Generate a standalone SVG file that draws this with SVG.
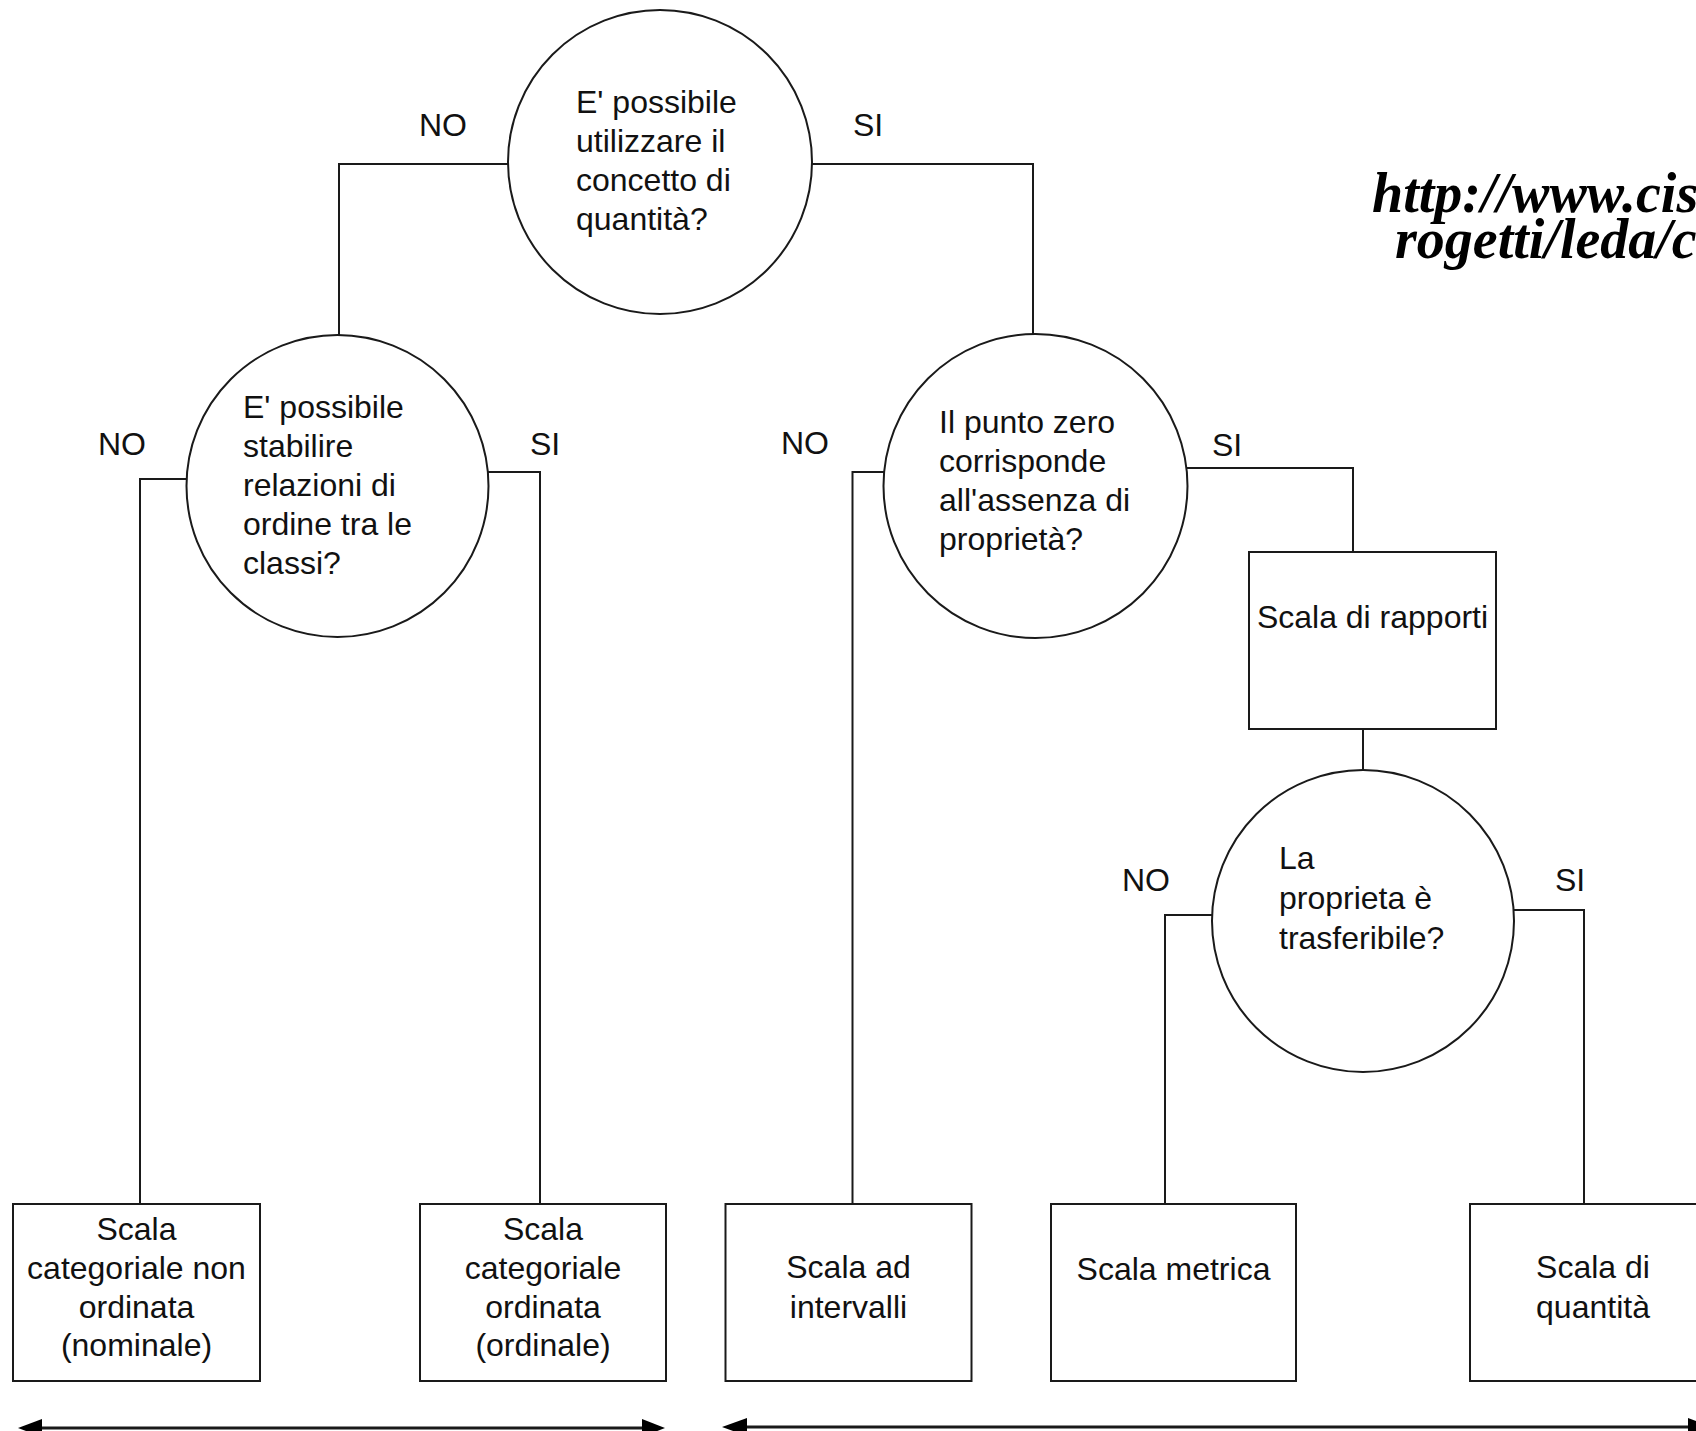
<svg xmlns="http://www.w3.org/2000/svg" width="1696" height="1431" viewBox="0 0 1696 1431">
<style>
.shape{fill:#fff;stroke:#1a1a1a;stroke-width:2}
.conn{fill:none;stroke:#1a1a1a;stroke-width:2}
.t{font-family:"Liberation Sans",Arial,sans-serif;font-size:32px;fill:#111}
.c{text-anchor:middle}
.url{font-family:"Liberation Serif","Times New Roman",serif;font-size:56px;font-weight:bold;font-style:italic;fill:#000}
.arr{fill:#000}
</style>
<rect width="1696" height="1431" fill="#fff"/>

<g id="connectors">
  <path class="conn" d="M509,164 H339 V335"/>
  <path class="conn" d="M812,164 H1033 V334"/>
  <path class="conn" d="M187,479 H140 V1204"/>
  <path class="conn" d="M488,472 H540 V1204"/>
  <path class="conn" d="M884,472 H852.5 V1204"/>
  <path class="conn" d="M1187,468 H1353 V552"/>
  <path class="conn" d="M1363,729 V770"/>
  <path class="conn" d="M1212,915 H1165 V1204"/>
  <path class="conn" d="M1514,910 H1584 V1204"/>
  <text class="t" x="419" y="136">NO</text>
  <text class="t" x="853" y="136">SI</text>
  <text class="t" x="98" y="455">NO</text>
  <text class="t" x="530" y="455">SI</text>
  <text class="t" x="781" y="454">NO</text>
  <text class="t" x="1212" y="456">SI</text>
  <text class="t" x="1122" y="891">NO</text>
  <text class="t" x="1555" y="891">SI</text>
</g>

<g id="q-quantita">
  <circle class="shape" cx="660" cy="162" r="152"/>
  <text class="t" x="576" y="113">E' possibile</text>
  <text class="t" x="576" y="152">utilizzare il</text>
  <text class="t" x="576" y="191">concetto di</text>
  <text class="t" x="576" y="230">quantità?</text>
</g>

<g id="q-ordine">
  <circle class="shape" cx="337.5" cy="486" r="151"/>
  <text class="t" x="243" y="418">E' possibile</text>
  <text class="t" x="243" y="457">stabilire</text>
  <text class="t" x="243" y="496">relazioni di</text>
  <text class="t" x="243" y="535">ordine tra le</text>
  <text class="t" x="243" y="574">classi?</text>
</g>

<g id="q-zero">
  <circle class="shape" cx="1035.5" cy="486" r="152"/>
  <text class="t" x="939" y="433">Il punto zero</text>
  <text class="t" x="939" y="472">corrisponde</text>
  <text class="t" x="939" y="511">all'assenza di</text>
  <text class="t" x="939" y="550">proprietà?</text>
</g>

<g id="scala-rapporti">
  <rect class="shape" x="1249" y="552" width="247" height="177"/>
  <text class="t c" x="1372.5" y="628">Scala di rapporti</text>
</g>

<g id="q-trasferibile">
  <circle class="shape" cx="1363" cy="921" r="151"/>
  <text class="t" x="1279" y="869">La</text>
  <text class="t" x="1279" y="909">proprieta è</text>
  <text class="t" x="1279" y="949">trasferibile?</text>
</g>

<g id="scala-nominale">
  <rect class="shape" x="13" y="1204" width="247" height="177"/>
  <text class="t c" x="136.5" y="1240">Scala</text>
  <text class="t c" x="136.5" y="1279">categoriale non</text>
  <text class="t c" x="136.5" y="1318">ordinata</text>
  <text class="t c" x="136.5" y="1356">(nominale)</text>
</g>

<g id="scala-ordinale">
  <rect class="shape" x="420" y="1204" width="246" height="177"/>
  <text class="t c" x="543" y="1240">Scala</text>
  <text class="t c" x="543" y="1279">categoriale</text>
  <text class="t c" x="543" y="1318">ordinata</text>
  <text class="t c" x="543" y="1356">(ordinale)</text>
</g>

<g id="scala-intervalli">
  <rect class="shape" x="725.5" y="1204" width="246" height="177"/>
  <text class="t c" x="848.5" y="1278">Scala ad</text>
  <text class="t c" x="848.5" y="1318">intervalli</text>
</g>

<g id="scala-metrica">
  <rect class="shape" x="1051" y="1204" width="245" height="177"/>
  <text class="t c" x="1173.5" y="1280">Scala metrica</text>
</g>

<g id="scala-quantita">
  <rect class="shape" x="1470" y="1204" width="246" height="177"/>
  <text class="t c" x="1593" y="1278">Scala di</text>
  <text class="t c" x="1593" y="1318">quantità</text>
</g>

<g id="range-arrows">
  <line x1="30" y1="1428" x2="650" y2="1428" stroke="#1a1a1a" stroke-width="3"/>
  <polygon class="arr" points="18,1428 42,1419 42,1437"/>
  <polygon class="arr" points="665,1428 642,1419 642,1437"/>
  <line x1="735" y1="1427" x2="1700" y2="1427" stroke="#1a1a1a" stroke-width="3"/>
  <polygon class="arr" points="722,1427 747,1418 747,1436"/>
  <polygon class="arr" points="1712,1427 1688,1418 1688,1436"/>
</g>

<g id="url">
  <text class="url" x="1372" y="212">http://www.cis</text>
  <text class="url" x="1395" y="258">rogetti/leda/c</text>
</g>
</svg>
